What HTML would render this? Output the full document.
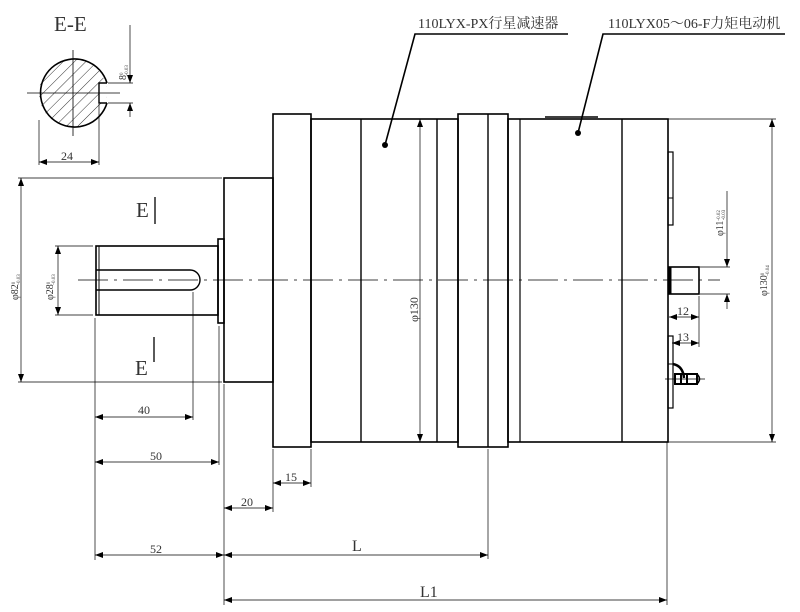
<!DOCTYPE html>
<html><head><meta charset="utf-8"><style>
html,body{margin:0;padding:0;background:#fff;width:800px;height:612px;overflow:hidden}
svg{display:block}
text{font-family:"Liberation Serif","Noto Serif CJK SC",serif;fill:#333}
</style></head><body>
<svg width="800" height="612" viewBox="0 0 800 612" xmlns="http://www.w3.org/2000/svg">
<defs>
<marker id="a" markerWidth="8" markerHeight="6" refX="8" refY="3" orient="auto-start-reverse" markerUnits="userSpaceOnUse"><path d="M0,0 L8,3 L0,6 z" fill="#000"/></marker>
<pattern id="h" width="8" height="8" patternUnits="userSpaceOnUse" patternTransform="rotate(45)"><line x1="0" y1="0" x2="0" y2="8" stroke="#000" stroke-width="0.8"/></pattern>
<clipPath id="cc"><circle cx="73" cy="93" r="34"/></clipPath>
</defs>
<g stroke="#000" fill="none">
<!-- E-E section -->
<g clip-path="url(#cc)"><rect x="38" y="58" width="70" height="70" fill="url(#h)" stroke="none"/><rect x="99" y="83" width="20" height="20" fill="#fff" stroke="none"/></g>
<path d="M107,83 A34,34 0 1 0 107,103" stroke-width="1.6"/>
<path d="M107,83 H99 V103 H107" stroke-width="1.4"/>
<line x1="27" y1="93" x2="120" y2="93" stroke-width="0.8"/>
<line x1="73" y1="50" x2="73" y2="136" stroke-width="0.8"/>
<line x1="108" y1="83" x2="133" y2="83" stroke-width="0.7"/>
<line x1="108" y1="103" x2="133" y2="103" stroke-width="0.7"/>
<line x1="130" y1="25" x2="130" y2="83" stroke-width="0.7" marker-end="url(#a)"/>
<line x1="130" y1="117" x2="130" y2="103" stroke-width="0.7" marker-end="url(#a)"/>
<line x1="39" y1="120" x2="39" y2="165" stroke-width="0.7"/>
<line x1="99" y1="104" x2="99" y2="165" stroke-width="0.7"/>
<line x1="39" y1="162" x2="99" y2="162" stroke-width="0.7" marker-start="url(#a)" marker-end="url(#a)"/>

<!-- flange block -->
<rect x="224" y="178" width="49" height="204" stroke-width="1.6"/>
<!-- shaft -->
<rect x="96" y="246" width="122" height="69" stroke-width="1.6"/>
<line x1="99" y1="246" x2="99" y2="315" stroke-width="1"/>
<path d="M96,270 H190 A10,10 0 0 1 190,290 H96" stroke-width="1.4"/>
<rect x="218" y="239" width="6" height="84" stroke-width="1.6"/>
<!-- plate 1 -->
<rect x="273" y="114" width="38" height="333" stroke-width="1.6"/>
<!-- body -->
<rect x="311" y="119" width="147" height="323" stroke-width="1.6"/>
<line x1="361" y1="119" x2="361" y2="442" stroke-width="1.4"/>
<line x1="437" y1="119" x2="437" y2="442" stroke-width="1.4"/>
<rect x="458" y="114" width="50" height="333" stroke-width="1.6"/>
<line x1="488" y1="114" x2="488" y2="447" stroke-width="1.4"/>
<rect x="508" y="119" width="160" height="323" stroke-width="1.6"/>
<line x1="520" y1="119" x2="520" y2="442" stroke-width="1.2"/>
<line x1="622" y1="119" x2="622" y2="442" stroke-width="1.4"/>
<line x1="545" y1="117" x2="598" y2="117" stroke-width="1.6"/>
<!-- right end details -->
<rect x="668" y="152" width="5" height="73" stroke-width="1.2"/>
<line x1="668" y1="198" x2="673" y2="198" stroke-width="1"/>
<rect x="669" y="267" width="30" height="27" stroke-width="1.6"/>
<line x1="670" y1="267" x2="670" y2="294" stroke-width="3"/>
<rect x="668" y="336" width="5" height="72" stroke-width="1.2"/>
<line x1="668" y1="364" x2="673" y2="364" stroke-width="1"/>
<path d="M673,364 Q683,366 684,378" stroke-width="2.5"/>
<rect x="675" y="374" width="22" height="10" stroke-width="2"/>
<line x1="681" y1="374" x2="681" y2="384" stroke-width="2"/>
<line x1="687" y1="374" x2="687" y2="384" stroke-width="2"/>
<path d="M697,374 Q702,379 697,384" stroke-width="1.5"/>
<line x1="665" y1="379" x2="705" y2="379" stroke-width="0.7"/>

<!-- centerline -->
<line x1="78" y1="280" x2="720" y2="280" stroke-width="0.7" stroke-dasharray="30,6,3,6"/>

<!-- E markers -->
<line x1="155" y1="197" x2="155" y2="224" stroke-width="1.3"/>
<line x1="154" y1="337" x2="154" y2="362" stroke-width="1.3"/>

<!-- phi82 -->
<line x1="18" y1="178" x2="222" y2="178" stroke-width="0.7"/>
<line x1="18" y1="382" x2="222" y2="382" stroke-width="0.7"/>
<line x1="21" y1="178" x2="21" y2="382" stroke-width="0.7" marker-start="url(#a)" marker-end="url(#a)"/>
<!-- phi28 -->
<line x1="55" y1="246" x2="93" y2="246" stroke-width="0.7"/>
<line x1="55" y1="315" x2="93" y2="315" stroke-width="0.7"/>
<line x1="58" y1="246" x2="58" y2="315" stroke-width="0.7" marker-start="url(#a)" marker-end="url(#a)"/>
<!-- extension lines bottom -->
<line x1="95" y1="318" x2="95" y2="560" stroke-width="0.7"/>
<line x1="193" y1="292" x2="193" y2="420" stroke-width="0.7"/>
<line x1="219" y1="326" x2="219" y2="465" stroke-width="0.7"/>
<line x1="224" y1="384" x2="224" y2="605" stroke-width="0.7"/>
<line x1="273" y1="449" x2="273" y2="512" stroke-width="0.7"/>
<line x1="311" y1="449" x2="311" y2="487" stroke-width="0.7"/>
<line x1="488" y1="449" x2="488" y2="559" stroke-width="0.7"/>
<line x1="667" y1="442" x2="667" y2="605" stroke-width="0.7"/>
<line x1="95" y1="417" x2="193" y2="417" stroke-width="0.7" marker-start="url(#a)" marker-end="url(#a)"/>
<line x1="95" y1="462" x2="219" y2="462" stroke-width="0.7" marker-start="url(#a)" marker-end="url(#a)"/>
<line x1="224" y1="508" x2="273" y2="508" stroke-width="0.7" marker-start="url(#a)" marker-end="url(#a)"/>
<line x1="273" y1="483" x2="311" y2="483" stroke-width="0.7" marker-start="url(#a)" marker-end="url(#a)"/>
<line x1="95" y1="555" x2="224" y2="555" stroke-width="0.7" marker-start="url(#a)" marker-end="url(#a)"/>
<line x1="224" y1="555" x2="488" y2="555" stroke-width="0.7" marker-start="url(#a)" marker-end="url(#a)"/>
<line x1="224" y1="600" x2="667" y2="600" stroke-width="0.7" marker-start="url(#a)" marker-end="url(#a)"/>
<!-- phi130 middle -->
<line x1="420" y1="119" x2="420" y2="442" stroke-width="0.7" marker-start="url(#a)" marker-end="url(#a)"/>
<!-- right dims -->
<line x1="668" y1="119" x2="776" y2="119" stroke-width="0.7"/>
<line x1="668" y1="442" x2="776" y2="442" stroke-width="0.7"/>
<line x1="772" y1="119" x2="772" y2="442" stroke-width="0.7" marker-start="url(#a)" marker-end="url(#a)"/>
<line x1="700" y1="267" x2="730" y2="267" stroke-width="0.7"/>
<line x1="700" y1="294" x2="730" y2="294" stroke-width="0.7"/>
<line x1="727" y1="191" x2="727" y2="267" stroke-width="0.7" marker-end="url(#a)"/>
<line x1="727" y1="309" x2="727" y2="294" stroke-width="0.7" marker-end="url(#a)"/>
<line x1="699" y1="296" x2="699" y2="347" stroke-width="0.7"/>
<line x1="669" y1="317" x2="699" y2="317" stroke-width="0.7" marker-start="url(#a)" marker-end="url(#a)"/>
<line x1="672" y1="343" x2="699" y2="343" stroke-width="0.7" marker-start="url(#a)" marker-end="url(#a)"/>
<!-- leaders -->
<polyline points="568,34 415,34 385,145" stroke-width="1.6"/>
<polyline points="785,34 603,34 578,133" stroke-width="1.6"/>
</g>
<circle cx="385" cy="145" r="3" fill="#000"/>
<circle cx="578" cy="133" r="3" fill="#000"/>

<text x="54" y="31" font-size="21">E-E</text>
<text x="136" y="217" font-size="21">E</text>
<text x="135" y="375" font-size="21">E</text>
<text x="418" y="28" font-size="14">110LYX-PX行星减速器</text>
<text x="608" y="28" font-size="14">110LYX05～06-F力矩电动机</text>
<text x="61" y="160" font-size="12">24</text>
<text x="138" y="414" font-size="12">40</text>
<text x="150" y="460" font-size="12">50</text>
<text x="241" y="506" font-size="12">20</text>
<text x="285" y="481" font-size="12">15</text>
<text x="150" y="553" font-size="12">52</text>
<text x="352" y="551" font-size="16">L</text>
<text x="420" y="597" font-size="16">L1</text>
<text x="677" y="315" font-size="12">12</text>
<text x="677" y="341" font-size="12">13</text>
<g font-size="10">
<text transform="translate(126,80) rotate(-90)">8<tspan font-size="5" dy="-3">0</tspan><tspan font-size="5" dy="5" dx="-3">-0.03</tspan></text>
<text transform="translate(18,300) rotate(-90)">φ82<tspan font-size="5" dy="-3">0</tspan><tspan font-size="5" dy="5" dx="-3">-0.03</tspan></text>
<text transform="translate(53,300) rotate(-90)">φ28<tspan font-size="5" dy="-3">0</tspan><tspan font-size="5" dy="5" dx="-3">-0.03</tspan></text>
<text transform="translate(418,322) rotate(-90)" font-size="12">φ130</text>
<text transform="translate(723,236) rotate(-90)">φ11<tspan font-size="5" dy="-3">-0.02</tspan><tspan font-size="5" dy="5" dx="-10">-0.03</tspan></text>
<text transform="translate(767,296) rotate(-90)">φ130<tspan font-size="5" dy="-3">0</tspan><tspan font-size="5" dy="5" dx="-3">-0.04</tspan></text>
</g>
</svg>
</body></html>
